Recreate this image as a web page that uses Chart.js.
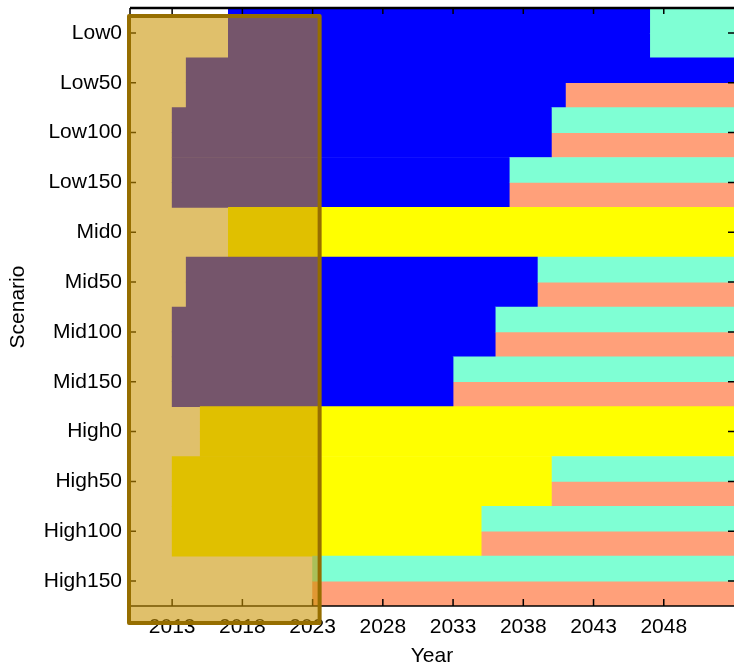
<!DOCTYPE html>
<html>
<head>
<meta charset="utf-8">
<script src="https://cdn.jsdelivr.net/npm/chart.js@4.4.1/dist/chart.umd.min.js"></script>
<style>
  html, body { margin: 0; padding: 0; background: #fff; }
  #wrap { width: 734px; height: 666px; }
</style>
</head>
<body>
<div id="wrap"><canvas id="scenarioChart"></canvas></div>
<script>
// scenario rows, top to bottom
const scenarios = ['Low0', 'Low50', 'Low100', 'Low150', 'Mid0', 'Mid50', 'Mid100', 'Mid150', 'High0', 'High50', 'High100', 'High150'];
// year each row starts, and its first colour
const startYear = [2017, 2014, 2013, 2013, 2017, 2014, 2013, 2013, 2015, 2013, 2013, null];
const firstColour = ['blue', 'blue', 'blue', 'blue', 'yellow', 'blue', 'blue', 'blue', 'yellow', 'yellow', 'yellow', null];
// year the upper / lower half of the row switches, and the colour after it
const switchTop = [2047, null, 2040, 2037, null, 2039, 2036, 2033, null, 2040, 2035, 2023];
const switchBottom = [2047, 2041, 2040, 2037, null, 2039, 2036, 2033, null, 2040, 2035, 2023];
const lateTopColour = ['aqua', null, 'aqua', 'aqua', null, 'aqua', 'aqua', 'aqua', null, 'aqua', 'aqua', 'aqua'];
const lateBottomColour = ['aqua', 'salmon', 'salmon', 'salmon', null, 'salmon', 'salmon', 'salmon', null, 'salmon', 'salmon', 'salmon'];
const yearTicks = [2013, 2018, 2023, 2028, 2033, 2038, 2043, 2048];
const firstYear = 2010;
const lastYear = 2053;
const windowYears = [2010, 2023.5];

const palette = {
    blue: '#0000FF',
    yellow: '#FFFF00',
    aqua: '#7FFFD4',
    salmon: '#FFA07A'
};
const font = { family: '"Liberation Sans", Arial, sans-serif', size: 21 };

function earlyBars(switchYears) {
    return scenarios.map((s, i) => startYear[i] == null ? null : [startYear[i], switchYears[i] == null ? lastYear : switchYears[i]]);
}
function lateBars(switchYears) {
    return scenarios.map((s, i) => switchYears[i] == null ? null : [switchYears[i], lastYear]);
}
function colours(keys) {
    return keys.map(k => k ? palette[k] : 'rgba(0,0,0,0)');
}

// ticks inside the box, axis lines, and the highlighted window
const matlabAxes = {
    id: 'matlabAxes',
    afterDatasetsDraw(chart) {
        const { ctx, chartArea: a, scales: { x, y } } = chart;
        ctx.save();
        ctx.strokeStyle = '#000';
        ctx.lineWidth = 1.5;
        ctx.beginPath();
        ctx.moveTo(a.left, a.bottom); ctx.lineTo(a.right, a.bottom);
        ctx.moveTo(a.left, a.top); ctx.lineTo(a.left, a.bottom);
        ctx.stroke();
        ctx.lineWidth = 2.5;
        ctx.beginPath();
        ctx.moveTo(a.left, a.top); ctx.lineTo(a.right, a.top);
        ctx.stroke();

        ctx.lineWidth = 1.5;
        ctx.beginPath();
        yearTicks.forEach(v => {
            const px = x.getPixelForValue(v);
            ctx.moveTo(px, a.bottom); ctx.lineTo(px, a.bottom - 7);
            ctx.moveTo(px, a.top); ctx.lineTo(px, a.top + 6);
        });
        scenarios.forEach((s, i) => {
            const py = y.getPixelForValue(i);
            ctx.moveTo(a.left, py); ctx.lineTo(a.left + 6, py);
            ctx.moveTo(a.right, py); ctx.lineTo(a.right - 6, py);
        });
        ctx.stroke();

        const x0 = x.getPixelForValue(windowYears[0]) - 1;
        const x1 = x.getPixelForValue(windowYears[1]);
        const y0 = a.top + 8;
        const y1 = a.bottom + 17;
        ctx.fillStyle = 'rgba(201,147,0,0.58)';
        ctx.fillRect(x0, y0, x1 - x0, y1 - y0);
        ctx.strokeStyle = '#966E00';
        ctx.lineWidth = 4;
        ctx.lineJoin = 'round';
        ctx.strokeRect(x0, y0, x1 - x0, y1 - y0);
        ctx.restore();
    }
};

const barStyle = { barPercentage: 1, categoryPercentage: 1, borderWidth: 0 };

new Chart(document.getElementById('scenarioChart'), {
    type: 'bar',
    data: {
        labels: scenarios,
        datasets: [
            Object.assign({ label: 'early upper', stack: 'upper', data: earlyBars(switchTop), backgroundColor: colours(firstColour) }, barStyle),
            Object.assign({ label: 'late upper', stack: 'upper', data: lateBars(switchTop), backgroundColor: colours(lateTopColour) }, barStyle),
            Object.assign({ label: 'early lower', stack: 'lower', data: earlyBars(switchBottom), backgroundColor: colours(firstColour) }, barStyle),
            Object.assign({ label: 'late lower', stack: 'lower', data: lateBars(switchBottom), backgroundColor: colours(lateBottomColour) }, barStyle)
        ]
    },
    options: {
        indexAxis: 'y',
        responsive: true,
        maintainAspectRatio: false,
        animation: false,
        layout: { padding: { top: 8, right: 0, bottom: 0, left: 0 } },
        plugins: { legend: { display: false }, tooltip: { enabled: false } },
        scales: {
            x: {
                type: 'linear',
                min: firstYear,
                max: lastYear,
                stacked: false,
                grid: { display: false, drawTicks: false },
                border: { display: false },
                afterBuildTicks: s => { s.ticks = yearTicks.map(v => ({ value: v })); },
                afterFit: s => { s.height = 60; s.paddingLeft = 0; s.paddingRight = 0; },
                ticks: { color: '#000', font: font, padding: 9, maxRotation: 0, callback: v => String(v) },
                title: { display: true, text: 'Year', color: '#000', font: font, padding: { top: 0, bottom: -3 } }
            },
            y: {
                grid: { display: false, drawTicks: false },
                border: { display: false },
                afterFit: s => { s.width = 130; s.paddingTop = 0; s.paddingBottom = 0; },
                ticks: { color: '#000', font: font, padding: 8 },
                title: { display: true, text: 'Scenario', color: '#000', font: font, padding: { top: 6, bottom: 0 } }
            }
        }
    },
    plugins: [matlabAxes]
});
</script>
</body>
</html>
